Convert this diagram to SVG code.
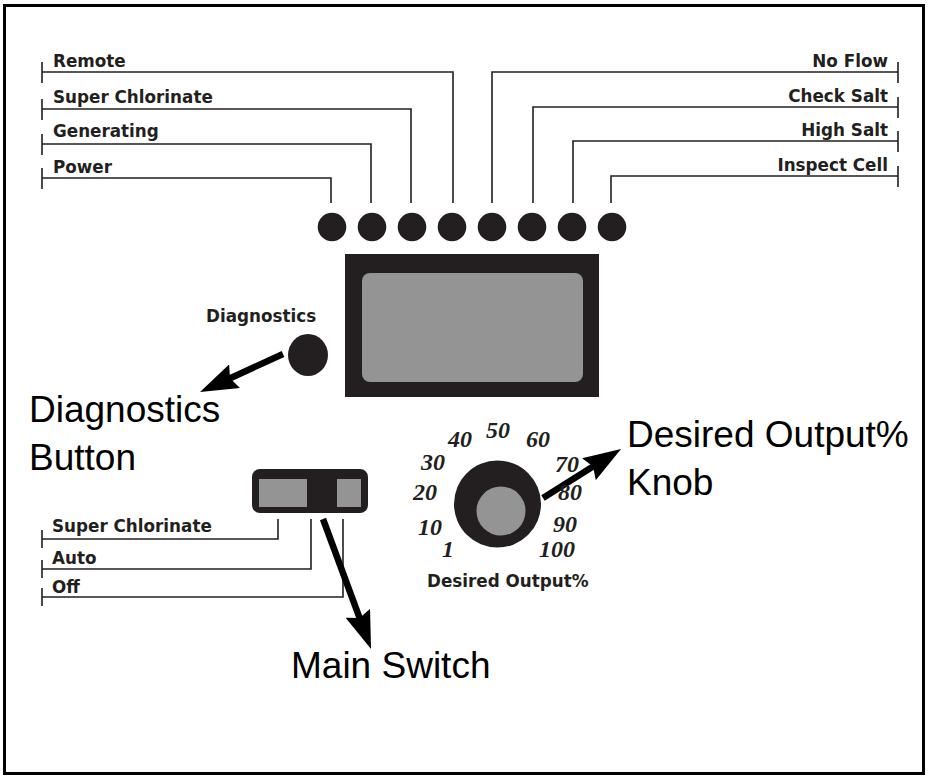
<svg xmlns="http://www.w3.org/2000/svg" width="930" height="777" viewBox="0 0 930 777">
<style>
.lbl{font-family:"DejaVu Sans",Verdana,sans-serif;font-weight:bold;font-size:16.8px;fill:#231f20}
.big{font-family:"Liberation Sans",Arial,sans-serif;font-size:37px;fill:#000}
.num{font-family:"Liberation Serif","Times New Roman",serif;font-style:italic;font-weight:bold;font-size:24px;fill:#231f20;text-anchor:middle}
.ln{fill:none;stroke:#231f20;stroke-width:1.6}
.arr{fill:none;stroke:#000;stroke-width:6.5;marker-end:url(#ah)}
.dark{fill:#231f20}
.grey{fill:#949494}
</style>
<defs>
<marker id="ah" viewBox="0 0 38 26" markerUnits="userSpaceOnUse" markerWidth="38" markerHeight="26" refX="18" refY="13" orient="auto">
<path d="M0,0 L38,13 L0,26 L5,13 Z" fill="#000"/>
</marker>
</defs>
<rect x="4.5" y="5.5" width="919" height="768" fill="#fff" stroke="#000" stroke-width="3"/>

<g id="connectors">
<path class="ln" d="M42,72 H453 V203 M42,62 V83"/>
<path class="ln" d="M42,109 H411 V203 M42,99 V120"/>
<path class="ln" d="M42,144 H371 V203 M42,134 V155"/>
<path class="ln" d="M42,178 H331 V203 M42,168 V189"/>
<path class="ln" d="M898,72 H492 V203 M898,62 V83"/>
<path class="ln" d="M898,107 H533 V203 M898,97 V118"/>
<path class="ln" d="M898,141 H573 V203 M898,131 V152"/>
<path class="ln" d="M898,176 H611 V203 M898,166 V187"/>
<path class="ln" d="M42,539 H278 V519 M42,530 V548"/>
<path class="ln" d="M42,569 H311 V519 M42,560 V578"/>
<path class="ln" d="M42,597 H343 V519 M42,588 V606"/>
<path class="arr" d="M283,354 L218.2,383.7"/>
<path class="arr" d="M323,519 L364.1,630.2"/>
<path class="arr" d="M543,498 L604.1,459.6"/>
</g>

<g id="labels-left">
<text class="lbl" x="53" y="67">Remote</text>
<text class="lbl" x="53" y="103">Super Chlorinate</text>
<text class="lbl" x="53" y="137">Generating</text>
<text class="lbl" x="53" y="173">Power</text>
</g>
<g id="labels-right">
<text class="lbl" x="888" y="67" text-anchor="end">No Flow</text>
<text class="lbl" x="888" y="102" text-anchor="end">Check Salt</text>
<text class="lbl" x="888" y="136" text-anchor="end">High Salt</text>
<text class="lbl" x="888" y="171" text-anchor="end">Inspect Cell</text>
</g>

<g id="leds">
<circle class="dark" cx="332" cy="227" r="14.3"/>
<circle class="dark" cx="372" cy="227" r="14.3"/>
<circle class="dark" cx="412" cy="227" r="14.3"/>
<circle class="dark" cx="452" cy="227" r="14.3"/>
<circle class="dark" cx="492" cy="227" r="14.3"/>
<circle class="dark" cx="532" cy="227" r="14.3"/>
<circle class="dark" cx="572" cy="227" r="14.3"/>
<circle class="dark" cx="612" cy="227" r="14.3"/>
</g>

<g id="display">
<rect class="dark" x="345" y="254" width="254" height="143"/>
<rect class="grey" x="362" y="273" width="221" height="109" rx="8"/>
</g>

<g id="diagnostics">
<text class="lbl" x="206" y="322">Diagnostics</text>
<ellipse class="dark" cx="308" cy="355" rx="20" ry="21"/>
<text class="big" x="29" y="422">Diagnostics</text>
<text class="big" x="29" y="470">Button</text>
</g>

<g id="switch">
<rect class="dark" x="252" y="469" width="116" height="44" rx="8"/>
<rect class="grey" x="259" y="479" width="48" height="28"/>
<rect class="grey" x="337" y="479" width="24" height="28"/>
<text class="lbl" x="52" y="532">Super Chlorinate</text>
<text class="lbl" x="52" y="564">Auto</text>
<text class="lbl" x="52" y="593">Off</text>
<text class="big" x="291" y="678">Main Switch</text>
</g>

<g id="knob">
<circle class="dark" cx="497.5" cy="504" r="43.5"/>
<circle class="grey" cx="501" cy="511" r="24.5"/>
<text class="num" x="448" y="557">1</text>
<text class="num" x="430" y="535">10</text>
<text class="num" x="425" y="500">20</text>
<text class="num" x="433" y="470">30</text>
<text class="num" x="460" y="447">40</text>
<text class="num" x="498" y="438">50</text>
<text class="num" x="538" y="447">60</text>
<text class="num" x="567" y="472">70</text>
<text class="num" x="570" y="500">80</text>
<text class="num" x="565" y="532">90</text>
<text class="num" x="557" y="557">100</text>
<text class="lbl" x="427" y="587">Desired Output%</text>
<text class="big" x="627" y="447">Desired Output%</text>
<text class="big" x="627" y="495">Knob</text>
</g>
</svg>
